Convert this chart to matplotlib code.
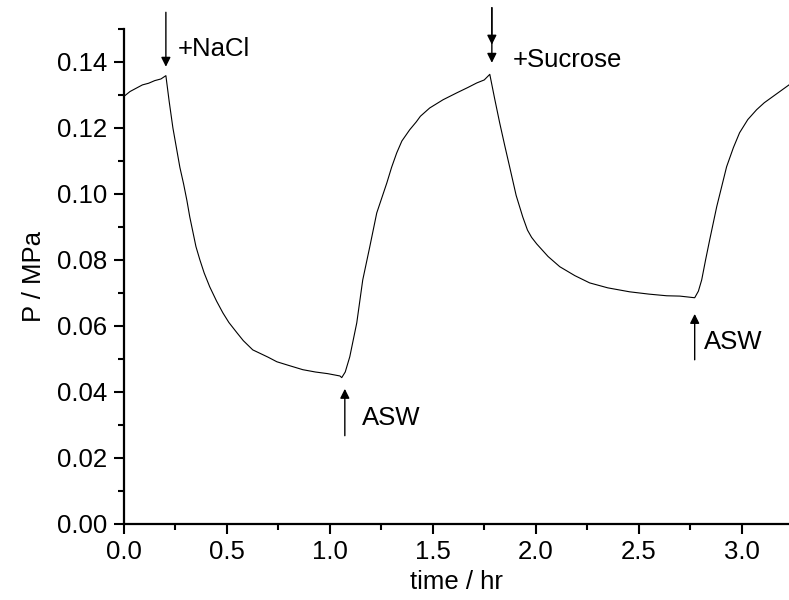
import numpy as np
import matplotlib
matplotlib.use('Agg')
import matplotlib.pyplot as plt
from matplotlib.ticker import MultipleLocator

plt.rcParams['font.family'] = ['Liberation Sans', 'DejaVu Sans']

# pressure trace (time in hr, P in MPa)
time = [0.000, 0.030, 0.060, 0.090, 0.120, 0.150, 0.180, 0.204,
        0.220, 0.238, 0.255, 0.272, 0.290, 0.306, 0.320, 0.335, 0.350,
        0.369, 0.390, 0.417, 0.450, 0.481, 0.510, 0.549, 0.580,
        0.626, 0.700, 0.743, 0.800, 0.869, 0.930, 0.990, 1.049, 1.058,
        1.075, 1.097, 1.131, 1.160, 1.194, 1.228, 1.277, 1.300, 1.325,
        1.350, 1.388, 1.420, 1.440, 1.485, 1.550, 1.617, 1.670, 1.714,
        1.750, 1.777,
        1.800, 1.825, 1.850, 1.874, 1.905, 1.937, 1.960, 1.980, 2.005,
        2.060, 2.117, 2.190, 2.262, 2.350, 2.456, 2.550, 2.636, 2.700,
        2.772,
        2.790, 2.806, 2.825, 2.845, 2.879, 2.927, 2.960, 2.990, 3.030,
        3.073, 3.110, 3.150, 3.190, 3.230]
pressure = [0.1295, 0.1310, 0.1320, 0.1330, 0.1335, 0.1343, 0.1348, 0.1358,
            0.1280, 0.1200, 0.1140, 0.1080, 0.1030, 0.0980, 0.0930, 0.0885, 0.0840,
            0.0800, 0.0760, 0.0718, 0.0675, 0.0639, 0.0610, 0.0579, 0.0555,
            0.0527, 0.0505, 0.0491, 0.0480, 0.0467, 0.0460, 0.0455, 0.0448, 0.0443,
            0.0460, 0.0506, 0.0609, 0.0739, 0.0839, 0.0942, 0.1033, 0.1080, 0.1124,
            0.1160, 0.1194, 0.1218, 0.1235, 0.1260, 0.1285, 0.1306, 0.1322, 0.1336,
            0.1345, 0.1362,
            0.1290, 0.1215, 0.1145, 0.1080, 0.0995, 0.0930, 0.0890, 0.0868, 0.0848,
            0.0810, 0.0779, 0.0752, 0.0730, 0.0715, 0.0703, 0.0696, 0.0691, 0.0690,
            0.0685,
            0.0705, 0.0739, 0.0800, 0.0861, 0.0961, 0.1082, 0.1140, 0.1185, 0.1225,
            0.1255, 0.1276, 0.1294, 0.1312, 0.1330]

# arrows: (x, y_tail, y_tip) and labels
arrow_x = [0.204, 1.787, 1.787, 1.073, 2.772]
arrow_tail = [0.1550, 0.1564, 0.1564, 0.0267, 0.0497]
arrow_tip = [0.1385, 0.1397, 0.1452, 0.0409, 0.0636]
label_text = ['+NaCl', '+Sucrose', 'ASW', 'ASW']
label_x = [0.26, 1.89, 1.155, 2.815]
label_y = [0.1440, 0.1406, 0.0322, 0.0550]

fig = plt.figure(figsize=(7.89, 6), dpi=100)
ax = fig.add_axes([0.157, 0.127, 0.843, 0.825])

ax.plot(time, pressure, color='black', lw=0.8)

for x, y0, y1 in zip(arrow_x, arrow_tail, arrow_tip):
    ax.annotate('', xy=(x, y1), xytext=(x, y0), annotation_clip=False,
                arrowprops=dict(arrowstyle='-|>', color='black', lw=1.0,
                                mutation_scale=14, shrinkA=0, shrinkB=0))
for s, x, y in zip(label_text, label_x, label_y):
    ax.text(x, y, s, fontsize=18.5, va='center', ha='left', clip_on=False)

ax.set_xlim(0, 3.23)
ax.set_ylim(0, 0.15)
ax.xaxis.set_major_locator(MultipleLocator(0.5))
ax.xaxis.set_minor_locator(MultipleLocator(0.25))
ax.yaxis.set_minor_locator(MultipleLocator(0.01))
ax.set_yticks(np.arange(0, 0.141, 0.02))
ax.set_yticklabels(['%.2f' % v for v in np.arange(0, 0.141, 0.02)])

for side in ['top', 'right']:
    ax.spines[side].set_visible(False)
for side in ['left', 'bottom']:
    ax.spines[side].set_linewidth(1.6)

ax.tick_params(which='major', direction='out', length=7, width=1.5, labelsize=18.5, pad=5)
ax.tick_params(which='minor', direction='out', length=4, width=1.5)

ax.set_xlabel('time / hr', fontsize=18.5, labelpad=4)
ax.set_ylabel('P / MPa', fontsize=18.5, labelpad=8)

fig.savefig('out.png', dpi=100)
